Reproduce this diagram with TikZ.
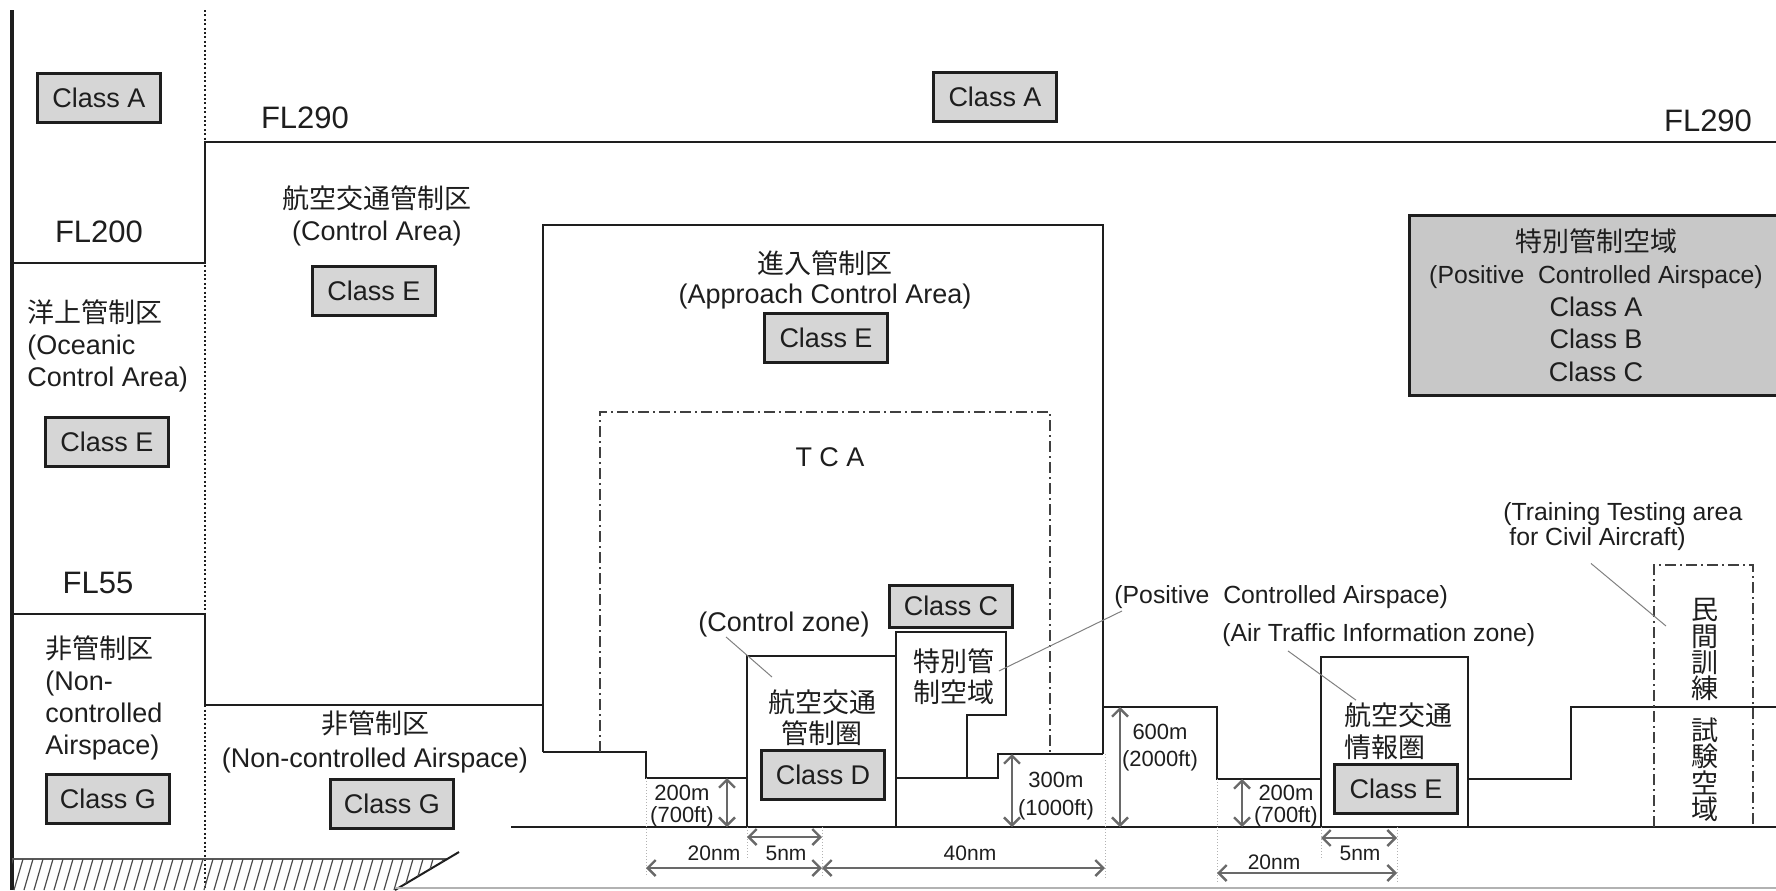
\documentclass[tikz,border=0pt]{standalone}
\usepackage{fontspec}
\setmainfont{Liberation Sans}
\newfontfamily\jpfont{Noto Sans CJK JP}
\usepackage{tikz}
\usetikzlibrary{arrows.meta}
\definecolor{inkgray}  {RGB}{30,30,30}
\definecolor{classgray}{RGB}{214,214,214}
\definecolor{pcagray}  {RGB}{200,200,200}
\definecolor{dimgray}  {RGB}{105,105,105}
\tikzset{
  classbox/.style={draw=inkgray, fill=classgray, line width=1.5pt,
                   minimum width=61.5pt, minimum height=24.5pt, inner sep=0pt,
                   text=inkgray, font=\fontsize{13.5}{16}\selectfont},
  pcabox/.style  ={draw=inkgray, fill=pcagray, line width=1.5pt,
                   minimum width=187pt, minimum height=90pt, inner sep=0pt,
                   align=center, text=inkgray,
                   font=\fontsize{13.5}{16.25}\selectfont},
  lbl/.style     ={inner sep=0pt, align=center, text=inkgray,
                   font=\fontsize{13.5}{16}\selectfont},
  jplbl/.style   ={lbl, font=\jpfont\fontsize{13.5}{15.5}\selectfont},
  smalllbl/.style={lbl, font=\fontsize{12.4}{12.5}\selectfont},
  fllbl/.style   ={lbl, font=\fontsize{15.5}{18}\selectfont},
  dimlbl/.style  ={lbl, font=\fontsize{11}{11}\selectfont},
  nmlbl/.style   ={lbl, font=\fontsize{10.5}{11}\selectfont},
  border/.style  ={draw=inkgray, line width=1.3pt},
  tcaline/.style ={draw=inkgray!85, line width=0.6pt,
                   dash pattern=on 5.5pt off 2pt on 1pt off 2pt},
  extline/.style ={draw=gray!60, line width=0.5pt, densely dotted},
  dimarr/.style  ={draw=dimgray, line width=1.2pt,
                   {Straight Barb[length=4pt,width=8pt]}-{Straight Barb[length=4pt,width=8pt]}},
  leader/.style  ={draw=gray, line width=0.5pt},
}

\begin{document}
\begin{tikzpicture}[x=0.5pt, y=-0.5pt]
  \useasboundingbox (0,0) rectangle (1776,890);

  %% frame and flight levels
  \draw[draw=inkgray, line width=2.3pt] (12,10) -- (12,890);
  \draw[draw=inkgray, line width=1pt, dash pattern=on 1pt off 1.2pt] (205,10) -- (205,890);
  \draw[border] (12,263) -- (205,263) -- (205,142) -- (1776,142);
  \draw[border] (12,614) -- (205,614) -- (205,705) -- (543,705);

  %% approach control area, control zone, positive controlled airspace
  \draw[border] (543,752) -- (543,225) -- (1103,225) -- (1103,754);
  \draw[border] (543,752) -- (646,752) -- (646,778) -- (747,778);
  \draw[border] (747,827) -- (747,656) -- (896,656) -- (896,827);
  \draw[border] (896,778) -- (896,632) -- (1006,632) -- (1006,715)
                -- (967,715) -- (967,778);
  \draw[border] (896,778) -- (998,778) -- (998,754) -- (1103,754);

  %% 600m level and information zone
  \draw[border] (1103,707) -- (1217,707) -- (1217,779) -- (1321,779);
  \draw[border] (1321,827) -- (1321,657) -- (1468,657) -- (1468,827);
  \draw[border] (1468,779) -- (1571,779) -- (1571,707) -- (1776,707);

  %% ground
  \draw[border] (511,827) -- (1776,827);
  \draw[draw=gray!70!black, line width=1pt] (12,859) -- (447,859);
  \draw[draw=inkgray, line width=1pt] (459,852) -- (395,890);
  \begin{scope}
    \clip (12,859) -- (447,859) -- (395,890) -- (12,890) -- cycle;
    \foreach \x in {4,14,...,454}
      \draw[inkgray!80, line width=0.6pt] (\x,890) -- (\x+9,859);
  \end{scope}
  \draw[gray!60, line width=1pt] (395,888) -- (1776,888);

  %% TCA and training area
  \draw[tcaline] (600,752) -- (600,412) -- (1050,412) -- (1050,754);
  \draw[tcaline] (1654,827) -- (1654,565) -- (1753,565) -- (1753,827);

  %% labels, left part
  \node[classbox] (clsAw) at (99,98) {Class A};
  \node[fllbl] (fl290w) at (305,118) {FL290};
  \node[fllbl] (fl200) at (99,232) {FL200};
  \node[lbl, align=left, anchor=west] (oceanic) at (27,346)
        {{\jpfont 洋上管制区}\\(Oceanic\\Control Area)};
  \node[classbox] (clsEocean) at (107,442) {Class E};
  \node[fllbl] (fl55) at (98,583) {FL55};
  \node[lbl, align=left, anchor=west] (noncw) at (45,698)
        {{\jpfont 非管制区}\\(Non-\\controlled\\Airspace)};
  \node[classbox] (clsGw) at (108,799) {Class G};

  \node[lbl] (ctrlarea) at (377,216) {{\jpfont 航空交通管制区}\\(Control Area)};
  \node[classbox] (clsEctrl) at (374,291) {Class E};
  \node[lbl] (noncc) at (375,742) {{\jpfont 非管制区}\\[1pt](Non-controlled Airspace)};
  \node[classbox] (clsGc) at (392,804) {Class G};

  %% labels, approach area
  \node[classbox] (clsAc) at (995,97) {Class A};
  \node[lbl] (approach) at (825,280) {{\jpfont 進入管制区}\\[-1pt](Approach Control Area)};
  \node[classbox] (clsEapp) at (826,338) {Class E};
  \node[lbl] (tca) at (830,457) {T C A};
  \node[lbl] (ctrlzone) at (784,624) {(Control zone)};
  \node[jplbl] (czjp) at (822,718) {航空交通\\管制圏};
  \node[classbox] (clsD) at (823,775) {Class D};
  \node[classbox, minimum height=21pt] (clsC) at (951,606) {Class C};
  \node[jplbl] (pcajp) at (954,677) {特別管\\制空域};

  %% labels, right part
  \node[fllbl] (fl290e) at (1708,121) {FL290};
  \node[pcabox] (pca) at (1596,305)
        {{\jpfont 特別管制空域}\\
         {\fontsize{12.4}{16.25}\selectfont (Positive\ \ Controlled Airspace)}\\
         Class A\\Class B\\Class C};
  \node[smalllbl, anchor=west] (pcalbl) at (1114,597) {(Positive\ \ Controlled Airspace)};
  \node[smalllbl, anchor=west] (atilbl) at (1222,635) {(Air Traffic Information zone)};
  \node[jplbl, align=left, anchor=west] (atijp) at (1344,731) {航空交通\\[0.5pt]情報圏};
  \node[classbox] (clsEati) at (1396,789) {Class E};
  \node[smalllbl, align=left, anchor=west] (trainlbl) at (1503,527)
        {(Training Testing area\\\hspace*{3pt}for Civil Aircraft)};
  \node[jplbl, font=\jpfont\fontsize{13.5}{13.2}\selectfont] (trainjp) at (1705,710)
        {民\\間\\訓\\練\\[7.5pt]試\\験\\空\\域};

  %% leaders
  \coordinate (czlead) at (772,677);
  \coordinate (trlead) at (1666,626);
  \draw[leader] ([xshift=14pt]ctrlzone.south west) -- (czlead);
  \draw[leader] ([xshift=2pt,yshift=3pt]pcajp.east) -- ([xshift=4pt,yshift=-1pt]pcalbl.south west);
  \draw[leader] ([xshift=33pt,yshift=-2pt]atilbl.south west) -- ([xshift=6pt,yshift=1pt]atijp.north west);
  \draw[leader] ([xshift=44pt,yshift=-6pt]trainlbl.south west) -- (trlead);

  %% dimensions
  \foreach \x/\a/\b in {646/778/876, 747/827/860, 822/827/876, 1105/754/878,
                        1217/779/884, 1321/827/860, 1397/827/882}
    \draw[extline] (\x,\a) -- (\x,\b);
  \draw[dimarr] (727,778) -- (727,827);
  \draw[dimarr] (1012,754) -- (1012,827);
  \draw[dimarr] (1120,707) -- (1120,827);
  \draw[dimarr] (1242,779) -- (1242,827);
  \draw[dimarr] (747,837) -- (822,837);
  \draw[dimarr] (646,868) -- (822,868);
  \draw[dimarr] (822,868) -- (1105,868);
  \draw[dimarr] (1321,838) -- (1397,838);
  \draw[dimarr] (1217,873) -- (1397,873);

  \node[dimlbl] (h200w) at (682,806) {200m\\(700ft)};
  \node[dimlbl] (h300) at (1056,796) {300m\\[3pt](1000ft)};
  \node[dimlbl] (h600) at (1160,748) {600m\\[2.5pt](2000ft)};
  \node[dimlbl] (h200e) at (1286,806) {200m\\(700ft)};
  \node[nmlbl] (d20w) at (714,853) {20nm};
  \node[nmlbl] (d5w) at (786,853) {5nm};
  \node[nmlbl] (d40) at (970,853) {40nm};
  \node[nmlbl] (d20e) at (1274,862) {20nm};
  \node[nmlbl] (d5e) at (1360,853) {5nm};
\end{tikzpicture}
\end{document}
